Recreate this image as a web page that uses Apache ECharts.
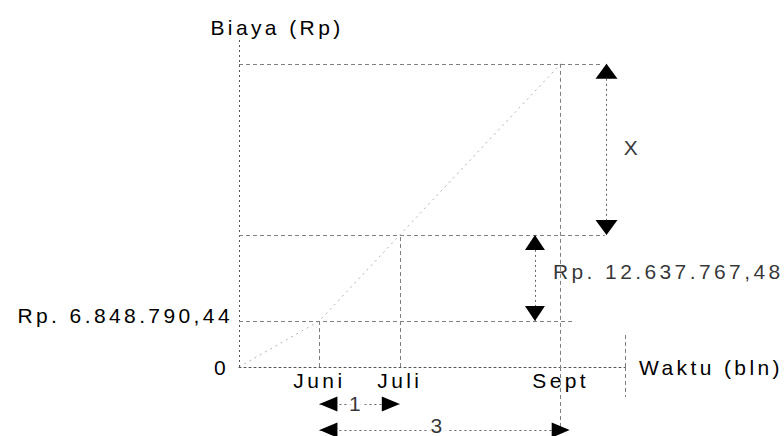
<!DOCTYPE html>
<html>
<head>
<meta charset="utf-8">
<script src="https://cdn.jsdelivr.net/npm/echarts@6/dist/echarts.min.js"></script>
<style>
html, body { margin: 0; padding: 0; background: #fff; }
#chart { width: 784px; height: 436px; }
#chart text { letter-spacing: 3.4px; }
</style>
</head>
<body>
<div id="chart"></div>
<script>
// ---- data ----
const monthLabels = ['Juni', 'Juli', 'Sept'];
const monthPos = [1, 2, 4];                 // months after the start of the time axis
const costLabels = ['Rp. 6.848.790,44', 'Rp. 12.637.767,48', 'X'];
const costLevel = [14.1, 40.4, 92.7];       // schematic heights in the drawing (not to scale)
const zeroLabel = '0';
const xName = 'Waktu (bln)';
const yName = 'Biaya (Rp)';

// ---- layout / style constants ----
const FONT = "'Liberation Sans', Arial, sans-serif";
const FS = 21;
const INK = '#000';
const GUIDE = '#808080';
const xEnd = 4.8, yMax = 100, yBelow = -21.1;
const [pJun, pJul, pSep] = monthPos;
const [lJun, lJul, lSep] = costLevel;
const arrowXA = 4.57, arrowXB = 3.68;   // x of the two vertical double arrows
const spanY1 = -11.3, spanY3 = -19.3;   // y of the two horizontal span arrows (below the axis)

const guideStyle = { color: GUIDE, width: 1, type: [4, 3] };
const axisStyle = { color: '#555', width: 1, type: [2, 3] };
const shaftStyle = { color: '#666', width: 1, type: [2, 3] };

function seg(a, b, style) { return [{ coord: a, lineStyle: style }, { coord: b }]; }

// upper panel (chart area above the time axis)
const guidesTop = [
  seg([0, 0], [0, yMax], axisStyle),
  seg([0, lJun], [4.18, lJun], guideStyle),
  seg([pJun, 0], [pJun, lJun], guideStyle),
  seg([0, lJul], [4.55, lJul], guideStyle),
  seg([pJul, 0], [pJul, lJul], guideStyle),
  seg([0, lSep], [4.49, lSep], guideStyle),
  seg([pSep, lSep], [pSep, 0], guideStyle),
  seg([xEnd, 9.8], [xEnd, 0], guideStyle),
  seg([arrowXA, lSep], [arrowXA, lJul], shaftStyle),
  seg([arrowXB, lJul], [arrowXB, lJun], shaftStyle)
];
// lower strip (below the time axis)
const guidesBottom = [
  seg([pSep, 0], [pSep, -19], guideStyle),
  seg([xEnd, 0], [xEnd, -9.2], guideStyle),
  seg([pJun, spanY1], [pJul, spanY1], shaftStyle),
  seg([pJun, spanY3], [pSep, spanY3], shaftStyle)
];

const headsTop = [
  { value: [arrowXA, lSep], symbolSize: [22, 15], symbolRotate: 0, symbolOffset: [0, 7.5] },
  { value: [arrowXA, lJul], symbolSize: [22, 15], symbolRotate: 180, symbolOffset: [0, -7.5] },
  { value: [arrowXB, lJul], symbolSize: [20, 15], symbolRotate: 0, symbolOffset: [0, 7.5] },
  { value: [arrowXB, lJun], symbolSize: [20, 15], symbolRotate: 180, symbolOffset: [0, -7.5] }
];
const headsBottom = [
  { value: [pJun, spanY1], symbolSize: [15, 18], symbolRotate: 90, symbolOffset: [9, 0] },
  { value: [pJul, spanY1], symbolSize: [15, 18], symbolRotate: -90, symbolOffset: [-9, 0] },
  { value: [pJun, spanY3], symbolSize: [15, 18], symbolRotate: 90, symbolOffset: [9, 0] },
  { value: [pSep, spanY3], symbolSize: [15, 18], symbolRotate: -90, symbolOffset: [0, 0] }
];

const txt = { color: INK, fontFamily: FONT, fontSize: FS };
const notesTop = [
  { value: [arrowXA, (lJul + lSep) / 2],
    label: Object.assign({ show: true, position: 'inside', formatter: costLabels[2], offset: [26, -2] }, txt) },
  { value: [arrowXB, (lJun + lJul) / 2],
    label: Object.assign({ show: true, position: 'inside', align: 'left', formatter: costLabels[1], offset: [18, -6] }, txt) }
];
const notesBottom = [
  { value: [(pJun + pJul) / 2, spanY1],
    label: Object.assign({ show: true, position: 'inside', formatter: String(pJul - pJun), offset: [-3, 0],
      backgroundColor: '#fff', padding: [0, 2] }, txt) },
  { value: [(pJun + pSep) / 2, spanY3],
    label: Object.assign({ show: true, position: 'inside', formatter: String(pSep - pJun), offset: [-2, -5],
      backgroundColor: '#fff', padding: [0, 4] }, txt) }
];

const hidden = { show: false };
const chart = echarts.init(document.getElementById('chart'), null, { renderer: 'svg' });
chart.setOption({
  animation: false,
  backgroundColor: '#fff',
  grid: [
    { left: 239, top: 40, width: 386, height: 327, containLabel: false, outerBoundsMode: 'none' },
    { left: 239, top: 367, width: 386, height: 69, containLabel: false, outerBoundsMode: 'none' }
  ],
  xAxis: [
    {
      gridIndex: 0, type: 'value', min: 0, max: xEnd, interval: 1,
      axisLine: { show: true, onZero: false, lineStyle: axisStyle },
      axisTick: hidden, splitLine: hidden,
      axisLabel: Object.assign({
        margin: 3, showMinLabel: true, showMaxLabel: true,
        formatter: function (v) { const i = monthPos.indexOf(v); return i < 0 ? '' : monthLabels[i]; }
      }, txt),
      name: xName, nameLocation: 'end', nameGap: 14, nameTextStyle: txt
    },
    {
      gridIndex: 1, type: 'value', min: 0, max: xEnd,
      axisLine: hidden, axisTick: hidden, splitLine: hidden, axisLabel: hidden
    }
  ],
  yAxis: [
    {
      gridIndex: 0, type: 'value', min: 0, max: yMax,
      axisLine: hidden, axisTick: hidden, splitLine: hidden,
      axisLabel: Object.assign({
        margin: 6,
        customValues: [0, lJun],
        formatter: function (v) { return v === 0 ? '{z|' + zeroLabel + '}' : '{r|' + costLabels[0] + '}'; },
        rich: { z: { padding: [0, 4, 0, 0] }, r: { padding: [0, 0, 10, 0] } }
      }, txt),
      name: yName, nameLocation: 'end', nameGap: 2,
      nameTextStyle: Object.assign({ padding: [0, 0, 0, 76] }, txt)
    },
    {
      gridIndex: 1, type: 'value', min: yBelow, max: 0,
      axisLine: hidden, axisTick: hidden, splitLine: hidden, axisLabel: hidden
    }
  ],
  series: [
    {
      type: 'line', name: 'biaya', xAxisIndex: 0, yAxisIndex: 0,
      data: [[0, 0]].concat(monthPos.map(function (p, i) { return [p, costLevel[i]]; })),
      symbol: 'none', silent: true,
      lineStyle: { color: '#b0b0b0', width: 1, type: [2, 4] },
      markLine: { silent: true, symbol: 'none', label: hidden, data: guidesTop }
    },
    {
      type: 'scatter', symbol: 'triangle', silent: true, xAxisIndex: 0, yAxisIndex: 0,
      itemStyle: { color: INK, opacity: 1 }, data: headsTop, z: 5
    },
    {
      type: 'scatter', symbol: 'triangle', silent: true, xAxisIndex: 1, yAxisIndex: 1,
      itemStyle: { color: INK, opacity: 1 }, data: headsBottom, z: 5,
      markLine: { silent: true, symbol: 'none', label: hidden, data: guidesBottom, z: 2 }
    },
    {
      type: 'scatter', symbolSize: 0, silent: true, xAxisIndex: 0, yAxisIndex: 0,
      itemStyle: { color: 'rgba(0,0,0,0)' }, data: notesTop, z: 6
    },
    {
      type: 'scatter', symbolSize: 0, silent: true, xAxisIndex: 1, yAxisIndex: 1,
      itemStyle: { color: 'rgba(0,0,0,0)' }, data: notesBottom, z: 6
    }
  ]
});
</script>
</body>
</html>
